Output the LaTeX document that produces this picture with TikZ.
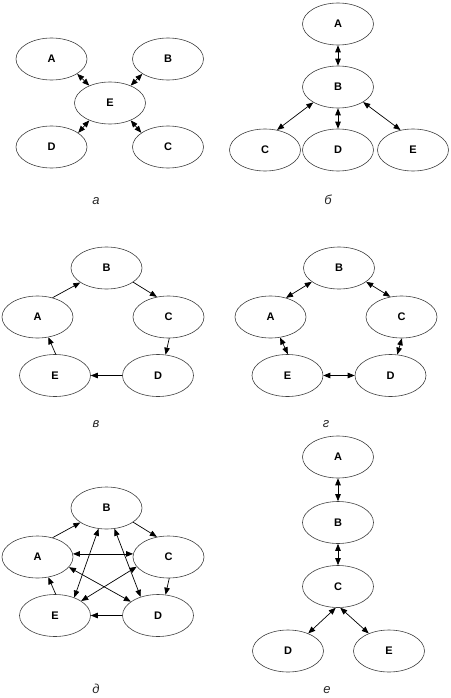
\documentclass[tikz,border=0pt]{standalone}
\usepackage{fontspec}
\setmainfont{Liberation Sans}
\usetikzlibrary{shapes.geometric,arrows.meta}
\tikzset{
  ell/.style={ellipse, draw=black!75, line width=0.6pt, minimum width=71pt, minimum height=42pt,
    inner sep=0pt, font=\bfseries\fontsize{11}{11}\selectfont},
  lab/.style={anchor=base, inner sep=0pt, text=black!85, font=\itshape\fontsize{13}{13}\selectfont},
  tip/.tip={Triangle[length=7pt,width=5.5pt]},
  arr/.style={line width=0.7pt, -tip},
  darr/.style={line width=0.7pt, tip-tip},
}
\begin{document}
\begin{tikzpicture}[x=1pt,y=-1pt]
\useasboundingbox (0,0) rectangle (450,698);
% panel a
\node[ell] (aA) at (51.5,59) {A};
\node[ell] (aB) at (168,59) {B};
\node[ell] (aE) at (110,103) {E};
\node[ell] (aD) at (51.5,147) {D};
\node[ell] (aC) at (168,147) {C};
\draw[darr] (aA.-30) -- (aE.140);
\draw[darr] (aB.210) -- (aE.40);
\draw[darr] (aD.28) -- (aE.220);
\draw[darr] (aC.152) -- (aE.-40);
\node[lab] (la) at (96,204.5) {а};
% panel b
\node[ell] (bA) at (338,24) {A};
\node[ell] (bB) at (338,87) {B};
\node[ell] (bC) at (265,150) {C};
\node[ell] (bD) at (338,150) {D};
\node[ell] (bE) at (413,150) {E};
\draw[darr] (bA.south) -- (bB.north);
\draw[darr] (bC.59) -- (bB.212);
\draw[darr] (bE.122) -- (bB.-31);
\draw[darr] (bD.north) -- (bB.south);
\node[lab] (lb) at (328,204.5) {б};
% panel v
\node[ell] (vB) at (106.5,268) {B};
\node[ell] (vA) at (37.5,317) {A};
\node[ell] (vC) at (168.5,317) {C};
\node[ell] (vE) at (55,375.5) {E};
\node[ell] (vD) at (158,375.5) {D};
\draw[arr] (vA.52) -- (vB.209);
\draw[arr] (vB.-28) -- (vC.120);
\draw[arr] (vC.-88) -- (vD.70);
\draw[arr] (vD.west) -- (vE.east);
\draw[arr] (vE.88) -- (vA.-62);
\node[lab] (lv) at (96,427) {в};
% panel g
\node[ell] (gB) at (339,268) {B};
\node[ell] (gA) at (270.5,317) {A};
\node[ell] (gC) at (401.5,317) {C};
\node[ell] (gE) at (287.5,375.5) {E};
\node[ell] (gD) at (390.5,375.5) {D};
\draw[darr] (gA.51) -- (gB.207);
\draw[darr] (gB.-27) -- (gC.119);
\draw[darr] (gC.-89) -- (gD.72);
\draw[darr] (gE.east) -- (gD.west);
\draw[darr] (gA.-65) -- (gE.89);
\node[lab] (lg) at (326,427) {г};
% panel d
\node[ell] (dB) at (106.5,508) {B};
\node[ell] (dA) at (37.5,557) {A};
\node[ell] (dC) at (168.5,557) {C};
\node[ell] (dE) at (55,615.5) {E};
\node[ell] (dD) at (158,615.5) {D};
\draw[arr] (dA.52) -- (dB.209);
\draw[arr] (dB.-28) -- (dC.120);
\draw[arr] (dC.-88) -- (dD.70);
\draw[arr] (dD.west) -- (dE.east);
\draw[arr] (dE.88) -- (dA.-62);
\draw[darr] (dA.5) -- (dC.175);
\draw[darr] (dA.-18) -- (dD.153);
\draw[darr] (dB.-69) -- (dD.133);
\draw[darr] (dB.249) -- (dE.43);
\draw[darr] (dE.29) -- (dC.197);
\node[lab] (ld) at (96,693.5) {д};
% panel e
\node[ell] (eA) at (338,457) {A};
\node[ell] (eB) at (338,522.5) {B};
\node[ell] (eC) at (338,586.5) {C};
\node[ell] (eD) at (288,651) {D};
\node[ell] (eE) at (389,651) {E};
\draw[darr] (eA.south) -- (eB.north);
\draw[darr] (eB.south) -- (eC.north);
\draw[darr] (eC.-96) -- (eD.41);
\draw[darr] (eC.-84) -- (eE.139);
\node[lab] (le) at (327,693.5) {е};
\end{tikzpicture}
\end{document}
